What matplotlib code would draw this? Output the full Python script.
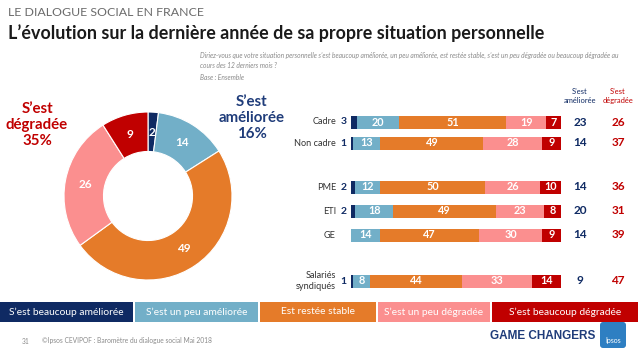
import matplotlib.pyplot as plt
from matplotlib.patches import Rectangle, FancyBboxPatch
import numpy as np

plt.rcParams['font.family'] = ['Lato', 'DejaVu Sans']

# categories / colours
legend_labels = ["S\u2019est beaucoup améliorée", "S\u2019est un peu améliorée",
                 "Est restée stable", "S\u2019est un peu dégradée", "S\u2019est beaucoup dégradée"]
colors = ['#0F2A63', '#72AFC8', '#E57B29', '#FB8F8F', '#C00000']

# donut: ensemble
pie_values = [2, 14, 49, 26, 9]

# bars per group
groups = ["Cadre", "Non cadre", "PME", "ETI", "GE", "Salariés\nsyndiqués"]
beaucoup_amel = [3, 1, 2, 2, 0, 1]
peu_amel = [20, 13, 12, 18, 14, 8]
stable = [51, 49, 50, 49, 47, 44]
peu_degr = [19, 28, 26, 23, 30, 33]
beaucoup_degr = [7, 9, 10, 8, 9, 14]
total_amel = [23, 14, 14, 20, 14, 9]
total_degr = [26, 37, 36, 31, 39, 47]

row_y = [122, 143, 187, 211, 235, 281]  # pixel rows of the bars

W, H = 638, 359
fig = plt.figure(figsize=(W / 100, H / 100), dpi=100)

# overlay in pixel coordinates
ov = fig.add_axes([0, 0, 1, 1])
ov.set_xlim(0, W)
ov.set_ylim(H, 0)
ov.axis('off')

ov.text(8, 13, "LE DIALOGUE SOCIAL EN FRANCE", fontsize=8.9, color='#6b6b6b', va='center')
ov.text(8, 33, "L\u2019évolution sur la dernière année de sa propre situation personnelle",
        fontsize=12.9, fontweight='bold', color='#1a1a1a', va='center')
sub = dict(fontsize=4.75, style='italic', color='#8a8a8a', va='center')
ov.text(200, 55, "Diriez-vous que votre situation personnelle s\u2019est beaucoup améliorée, un peu améliorée, "
        "est restée stable, s\u2019est un peu dégradée ou beaucoup dégradée au", **sub)
ov.text(200, 66, "cours des 12 derniers mois ?", **sub)
ov.text(200, 77, "Base : Ensemble", **sub)

# donut
cx, cy, r = 148, 196, 84
pax = fig.add_axes([(cx - r) / W, (H - cy - r) / H, 2 * r / W, 2 * r / H])
wedges, _ = pax.pie(pie_values, colors=colors, startangle=90, counterclock=False,
                    radius=1, wedgeprops=dict(width=0.47, edgecolor='white', linewidth=0.8))
pax.set_xlim(-1, 1)
pax.set_ylim(-1, 1)
pax.set_aspect('equal')
cum = np.cumsum([0] + pie_values)
for i, v in enumerate(pie_values):
    mid = 90 - 360 * (cum[i] + v / 2) / 100
    rr = 0.76
    pax.text(rr * np.cos(np.radians(mid)), rr * np.sin(np.radians(mid)), str(v),
             ha='center', va='center', color='white', fontsize=8.5, fontweight='bold')

ov.text(37, 125, "S\u2019est\ndégradée\n35%", ha='center', va='center', color='#C00000',
        fontsize=10.8, fontweight='bold', linespacing=1.15)
ov.text(252, 118, "S\u2019est\naméliorée\n16%", ha='center', va='center', color='#1F3C7A',
        fontsize=10.8, fontweight='bold', linespacing=1.15)

# stacked bars
x0, x1 = 351, 561
bax = fig.add_axes([x0 / W, (H - 300) / H, (x1 - x0) / W, 200 / H])
bax.set_xlim(0, 100)
bax.set_ylim(300, 100)
bax.axis('off')
series = [beaucoup_amel, peu_amel, stable, peu_degr, beaucoup_degr]
left = np.zeros(len(groups))
for k, vals in enumerate(series):
    vals = np.array(vals, dtype=float)
    bax.barh(row_y, vals, left=left, height=13, color=colors[k], linewidth=0)
    for j, v in enumerate(vals):
        if v == 0:
            continue
        if k == 0:
            bax.text(-2.2, row_y[j], str(int(v)), ha='right', va='center',
                     color='#0F2A63', fontsize=7.5, fontweight='bold')
        else:
            bax.text(left[j] + v / 2, row_y[j], str(int(v)), ha='center', va='center',
                     color='white', fontsize=7.8, fontweight='bold')
    left += vals

for j, g in enumerate(groups):
    ov.text(336, row_y[j], g, ha='right', va='center', fontsize=6.6, color='#333333',
            linespacing=1.3)
    ov.text(580, row_y[j], str(total_amel[j]), ha='center', va='center',
            fontsize=8.5, fontweight='bold', color='#0F2A63')
    ov.text(618, row_y[j], str(total_degr[j]), ha='center', va='center',
            fontsize=8.5, fontweight='bold', color='#C00000')

ov.text(580, 96, "S\u2019est\naméliorée", ha='center', va='center', fontsize=5.4,
        color='#0F2A63', linespacing=1.3)
ov.text(618, 96, "S\u2019est\ndégradée", ha='center', va='center', fontsize=5.4,
        color='#C00000', linespacing=1.3)

# legend strip
boxes = [(0, 133), (135, 258), (260, 376), (378, 490), (492, 638)]
for (a, b), lab, c in zip(boxes, legend_labels, colors):
    ov.add_patch(Rectangle((a, 302), b - a, 20, color=c, linewidth=0))
    ov.text((a + b) / 2, 312, lab, ha='center', va='center', color='white', fontsize=7.4)

# footer
ov.text(22, 341, "31", fontsize=4.8, color='#8a8a8a', va='center')
ov.text(42, 341, "©Ipsos CEVIPOF : Baromètre du dialogue social Mai 2018", fontsize=4.8,
        color='#8a8a8a', va='center')
ov.text(490, 336, "GAME CHANGERS", fontsize=8.5, fontweight='bold', color='#1F3C7A',
        va='center', family=['Liberation Sans', 'DejaVu Sans'])
ov.add_patch(FancyBboxPatch((600, 322), 26, 26, boxstyle='round,pad=0,rounding_size=3',
                            color='#2E7FC2', linewidth=0))
ov.text(613, 340, "Ipsos", ha='center', va='center', fontsize=5, color='white')

fig.savefig('out.png', dpi=100)
